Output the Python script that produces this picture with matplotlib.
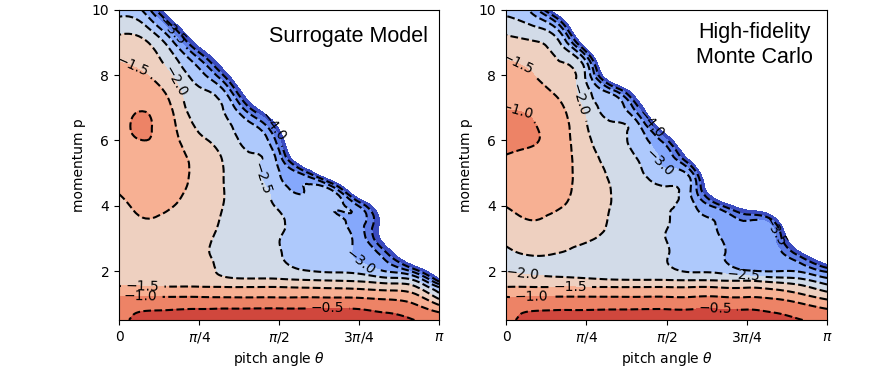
import numpy as np
import matplotlib
matplotlib.use("Agg")
import matplotlib.pyplot as plt
import matplotlib.tri as mtri

# grid of the distribution (pitch angle in units of pi, momentum p)
theta_frac = [0.0, 1/12, 2/12, 3/12, 4/12, 5/12, 6/12, 7/12, 8/12, 9/12, 10/12, 11/12, 1.0]
momentum = [0.5, 0.75, 1.0, 1.25, 1.5, 1.75, 2.0, 2.5, 3.0, 3.5, 4.0, 4.5, 5.0,
            5.5, 6.0, 6.5, 7.0, 7.5, 8.0, 8.5, 9.0, 9.5, 10.0]

# log10 of the distribution, one row per momentum value (read off the figure;
# values below -4.5 fall in the blank, unfilled part)
surrogate_logf = [
    [-0.55, -0.42, -0.35, -0.33, -0.32, -0.31, -0.30, -0.30, -0.30, -0.32, -0.35, -0.48, -0.80],
    [-0.62, -0.48, -0.45, -0.42, -0.40, -0.40, -0.40, -0.40, -0.40, -0.42, -0.52, -0.70, -1.02],
    [-0.80, -0.72, -0.70, -0.70, -0.70, -0.70, -0.70, -0.70, -0.70, -0.72, -0.80, -0.98, -1.60],
    [-1.02, -1.05, -1.07, -1.07, -1.08, -1.08, -1.08, -1.08, -1.10, -1.12, -1.20, -1.35, -2.30],
    [-1.45, -1.46, -1.47, -1.47, -1.48, -1.48, -1.48, -1.52, -1.55, -1.60, -1.70, -1.85, -2.98],
    [-1.62, -1.62, -1.70, -1.75, -1.92, -1.97, -1.98, -2.05, -2.10, -2.15, -2.35, -2.55, -4.40],
    [-1.72, -1.70, -1.78, -1.85, -2.08, -2.15, -2.30, -2.48, -2.55, -2.65, -3.02, -3.60, -5.50],
    [-1.80, -1.76, -1.80, -1.90, -2.15, -2.25, -2.47, -2.62, -2.70, -3.08, -3.80, -5.85, -7.00],
    [-1.78, -1.70, -1.72, -1.85, -2.15, -2.28, -2.49, -2.65, -2.75, -3.20, -5.00, -7.35, -8.50],
    [-1.70, -1.53, -1.60, -1.75, -2.10, -2.30, -2.42, -2.68, -2.80, -3.25, -5.20, -8.85, -9.00],
    [-1.60, -1.42, -1.49, -1.68, -2.04, -2.32, -2.55, -2.75, -2.90, -3.55, -6.00, -9.00, -9.00],
    [-1.45, -1.30, -1.40, -1.62, -2.03, -2.36, -2.75, -2.97, -3.10, -5.90, -7.50, -9.00, -9.00],
    [-1.30, -1.20, -1.33, -1.60, -2.04, -2.40, -2.98, -3.80, -5.90, -7.40, -9.00, -9.00, -9.00],
    [-1.15, -1.10, -1.30, -1.65, -2.10, -2.46, -3.30, -6.15, -7.40, -8.90, -9.00, -9.00, -9.00],
    [-1.07, -1.00, -1.32, -1.90, -2.25, -2.65, -3.85, -7.60, -8.90, -9.00, -9.00, -9.00, -9.00],
    [-1.06, -0.97, -1.40, -2.10, -2.40, -2.98, -4.93, -9.00, -9.00, -9.00, -9.00, -9.00, -9.00],
    [-1.10, -1.03, -1.52, -2.30, -2.58, -4.20, -6.40, -9.00, -9.00, -9.00, -9.00, -9.00, -9.00],
    [-1.20, -1.25, -1.72, -2.42, -3.05, -5.70, -7.90, -9.00, -9.00, -9.00, -9.00, -9.00, -9.00],
    [-1.35, -1.48, -2.02, -2.80, -4.20, -7.20, -9.00, -9.00, -9.00, -9.00, -9.00, -9.00, -9.00],
    [-1.55, -1.72, -2.35, -3.48, -5.70, -8.70, -9.00, -9.00, -9.00, -9.00, -9.00, -9.00, -9.00],
    [-1.85, -1.95, -2.90, -4.93, -7.20, -9.00, -9.00, -9.00, -9.00, -9.00, -9.00, -9.00, -9.00],
    [-2.20, -2.48, -3.98, -6.40, -8.70, -9.00, -9.00, -9.00, -9.00, -9.00, -9.00, -9.00, -9.00],
    [-2.70, -3.20, -5.70, -7.90, -9.00, -9.00, -9.00, -9.00, -9.00, -9.00, -9.00, -9.00, -9.00],
]

montecarlo_logf = [
    [-0.55, -0.42, -0.38, -0.36, -0.34, -0.33, -0.32, -0.32, -0.32, -0.33, -0.36, -0.48, -0.70],
    [-0.62, -0.48, -0.45, -0.45, -0.43, -0.42, -0.42, -0.42, -0.42, -0.43, -0.52, -0.72, -0.90],
    [-0.78, -0.75, -0.72, -0.72, -0.72, -0.72, -0.72, -0.72, -0.72, -0.73, -0.80, -0.98, -1.25],
    [-1.05, -1.05, -1.05, -1.05, -1.05, -1.05, -1.05, -1.05, -1.05, -1.07, -1.15, -1.40, -1.75],
    [-1.48, -1.48, -1.48, -1.48, -1.48, -1.48, -1.48, -1.48, -1.51, -1.52, -1.62, -1.85, -2.30],
    [-1.80, -1.85, -1.90, -1.95, -2.02, -2.04, -2.05, -2.08, -2.10, -2.15, -2.30, -2.45, -2.90],
    [-2.03, -2.10, -2.15, -2.22, -2.25, -2.30, -2.40, -2.55, -2.62, -2.95, -3.02, -3.05, -3.60],
    [-2.12, -1.98, -2.03, -2.15, -2.25, -2.30, -2.48, -2.70, -2.92, -3.20, -3.25, -4.20, -6.00],
    [-1.90, -1.75, -1.85, -1.95, -2.10, -2.25, -2.51, -2.75, -2.98, -3.30, -3.40, -6.00, -7.50],
    [-1.70, -1.52, -1.65, -1.80, -2.05, -2.22, -2.47, -2.82, -3.05, -3.45, -3.90, -7.50, -9.00],
    [-1.49, -1.40, -1.47, -1.72, -2.02, -2.23, -2.45, -2.93, -3.90, -5.00, -6.00, -9.00, -9.00],
    [-1.35, -1.30, -1.37, -1.70, -2.02, -2.28, -2.42, -3.20, -6.00, -6.50, -7.50, -9.00, -9.00],
    [-1.20, -1.20, -1.30, -1.75, -2.05, -2.40, -2.90, -3.55, -7.50, -8.00, -9.00, -9.00, -9.00],
    [-1.02, -1.08, -1.25, -1.82, -2.12, -2.60, -3.20, -5.45, -9.00, -9.00, -9.00, -9.00, -9.00],
    [-0.92, -0.97, -1.25, -1.90, -2.25, -2.80, -3.90, -6.95, -9.00, -9.00, -9.00, -9.00, -9.00],
    [-0.93, -0.98, -1.30, -1.98, -2.45, -3.05, -5.90, -8.45, -9.00, -9.00, -9.00, -9.00, -9.00],
    [-1.02, -1.10, -1.42, -2.15, -2.70, -4.10, -7.40, -9.00, -9.00, -9.00, -9.00, -9.00, -9.00],
    [-1.15, -1.30, -1.60, -2.35, -3.30, -5.60, -8.90, -9.00, -9.00, -9.00, -9.00, -9.00, -9.00],
    [-1.30, -1.48, -1.80, -2.60, -5.70, -7.10, -9.00, -9.00, -9.00, -9.00, -9.00, -9.00, -9.00],
    [-1.52, -1.70, -2.02, -3.20, -7.20, -8.60, -9.00, -9.00, -9.00, -9.00, -9.00, -9.00, -9.00],
    [-1.85, -1.95, -2.48, -5.35, -8.70, -9.00, -9.00, -9.00, -9.00, -9.00, -9.00, -9.00, -9.00],
    [-2.20, -2.48, -3.40, -6.85, -9.00, -9.00, -9.00, -9.00, -9.00, -9.00, -9.00, -9.00, -9.00],
    [-2.65, -3.20, -5.60, -8.35, -9.00, -9.00, -9.00, -9.00, -9.00, -9.00, -9.00, -9.00, -9.00],
]

levels = np.arange(-4.5, 0.51, 0.5)
line_levels = levels[1:-2]   # -4.0 ... -0.5

# where the contour labels sit (theta/pi, p)
surrogate_label_pos = [(0.165, 9.34), (0.05, 8.47), (0.177, 7.82), (0.49, 6.5), (0.44, 4.79),
                       (0.763, 2.44), (0.074, 1.57), (0.068, 1.21), (0.651, 0.81)]
montecarlo_label_pos = [(0.044, 8.57), (0.03, 6.73), (0.205, 7.14), (0.454, 6.53), (0.469, 5.3),
                        (0.828, 3.21), (0.741, 1.81), (0.05, 1.73), (0.2, 1.48), (0.08, 1.21),
                        (0.651, 0.79)]

P_SCALE = 9.7  # momentum range in units comparable to the theta range (for smoothing)


def fmt_level(v):
    return f"{v:.1f}".replace("-", "\u2212")


def smooth_field(logf):
    # split each grid cell in two triangles and let matplotlib refine with a cubic interpolant
    Tf, P = np.meshgrid(theta_frac, momentum)
    Z = np.array(logf)
    ny, nx = Z.shape
    idx = np.arange(ny * nx).reshape(ny, nx)
    a = idx[:-1, :-1].ravel()
    b = idx[:-1, 1:].ravel()
    c = idx[1:, 1:].ravel()
    d = idx[1:, :-1].ravel()
    triangles = np.concatenate([np.stack([a, b, d], 1), np.stack([b, c, d], 1)])
    tri = mtri.Triangulation(Tf.ravel(), P.ravel() / P_SCALE, triangles)
    interp = mtri.CubicTriInterpolator(tri, Z.ravel(), kind="min_E")
    fine, zf = mtri.UniformTriRefiner(tri).refine_field(Z.ravel(), triinterpolator=interp, subdiv=3)
    return mtri.Triangulation(fine.x * np.pi, fine.y * P_SCALE, fine.triangles), zf


def draw_panel(ax, logf, label_pos):
    tri, zf = smooth_field(logf)
    ax.tricontourf(tri, zf, levels=levels, cmap="coolwarm", vmin=-4.25, vmax=0.1)
    cs = ax.tricontour(tri, zf, levels=line_levels, colors="k", linewidths=1.5)
    ax.clabel(cs, fmt=fmt_level, fontsize=10,
              manual=[(t * np.pi, p) for t, p in label_pos])
    ax.set_xlim(0, np.pi)
    ax.set_ylim(0.5, 10)
    ax.set_xticks([0, np.pi / 4, np.pi / 2, 3 * np.pi / 4, np.pi])
    ax.set_xticklabels(["0", r"$\pi/4$", r"$\pi/2$", r"$3\pi/4$", r"$\pi$"])
    ax.set_yticks([2, 4, 6, 8, 10])
    ax.set_xlabel(r"pitch angle $\theta$")
    ax.set_ylabel("momentum p")


fig = plt.figure(figsize=(8.95, 3.74), dpi=100)
ax1 = fig.add_axes([0.133, 0.1444, 0.3575, 0.829])
ax2 = fig.add_axes([0.5654, 0.1444, 0.3587, 0.829])

draw_panel(ax1, surrogate_logf, surrogate_label_pos)
draw_panel(ax2, montecarlo_logf, montecarlo_label_pos)

ax1.text(0.966, 0.898, "Surrogate Model", transform=ax1.transAxes, ha="right",
         va="baseline", fontsize=15.5, family="Liberation Sans")
ax2.text(0.773, 0.887, "High-fidelity\nMonte Carlo", transform=ax2.transAxes, ha="center",
         va="center", fontsize=15.5, family="Liberation Sans", linespacing=1.2)

fig.savefig("out.png", dpi=100)
